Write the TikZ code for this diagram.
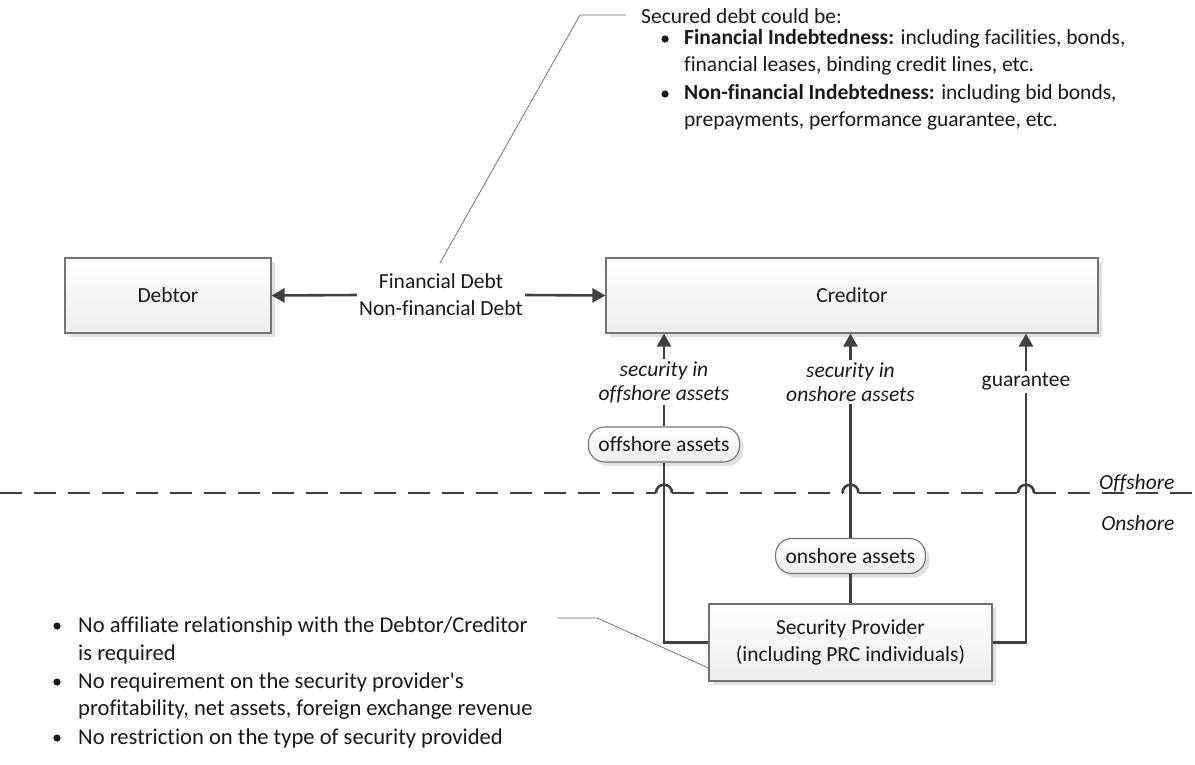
\documentclass[tikz,border=0pt]{standalone}
\usepackage{fontspec}
\setmainfont{Carlito}[Ligatures={TeXOff,CommonOff}]
\usetikzlibrary{arrows.meta,shadows}
\begin{document}
\begin{tikzpicture}[x=1pt,y=-1pt,
  every node/.style={font=\fontsize{21.5}{27}\selectfont, text=black!90},
  box/.style={draw=black!55, line width=1.1pt, top color=white, bottom color=black!7,
    drop shadow={shadow xshift=4pt, shadow yshift=-4pt, fill=black!12, opacity=1}},
  pill/.style={box, rounded corners=16pt, minimum height=35pt, inner xsep=10pt},
  conn/.style={draw=black!75, line width=2.6pt},
  arr/.style={conn, -{Triangle[length=13pt,width=14pt]}},
  callout/.style={draw=black!60, line width=0.7pt},
  dashline/.style={draw=black!75, line width=2.6pt, dash pattern=on 22pt off 12pt},
  hop/.style={draw=black!75, line width=2.6pt},
  lbl/.style={align=center, inner sep=2pt},
  dot/.style={fill=black!90},
  txt/.style={anchor=west, inner sep=0pt},
  bigtext/.style={anchor=west, inner sep=0pt, font=\fontsize{22.6}{28}\selectfont}
]
\useasboundingbox (0,0) rectangle (1195,764);

% boxes
\node[box, minimum width=206pt, minimum height=75pt] (debtor) at (168,295.5) {Debtor};
\node[box, minimum width=492pt, minimum height=75pt] (creditor) at (852,295.5) {Creditor};
\node[box, minimum width=283pt, minimum height=77pt, align=center] (sp) at (850.5,642.5)
  {Security Provider\\(including PRC individuals)};
\node[pill] (offp) at (664,444.5) {offshore assets};
\node[pill] (onp) at (850.5,556) {onshore assets};

% debt label and arrows
\node[lbl] (debt) at (441,295) {Financial Debt\\Non-financial Debt};
\draw[arr] (debt.west) -- (debtor.east);
\draw[arr] (debt.east) -- (creditor.west);

% vertical labels
\node[lbl, font=\itshape\fontsize{21.5}{24}\selectfont] (l1) at (664,382) {security in\\offshore assets};
\node[lbl, font=\itshape\fontsize{21.5}{24}\selectfont] (l2) at (850.5,382) {security in\\onshore assets};
\node[lbl] (l3) at (1026,382) {guarantee};

\draw[arr] (l1.north) -- (l1.north |- creditor.south);
\draw[arr] (l2.north) -- (l2.north |- creditor.south);
\draw[arr] (l3.north) -- (l3.north |- creditor.south);

\draw[conn] (l1.south) -- (offp.north);
\draw[conn] (offp.south) |- (sp.west);
\draw[conn] (l2.south) -- (onp.north);
\draw[conn] (onp.south) -- (sp.north);
\draw[conn] (l3.south) |- (sp.east);

% offshore / onshore divider with hops
\coordinate (dl) at (0,493);
\coordinate (h1a) at (656,493);   \coordinate (h1b) at (672,493);
\coordinate (h2a) at (842.5,493); \coordinate (h2b) at (858.5,493);
\coordinate (h3a) at (1018,493);  \coordinate (h3b) at (1034,493);
\coordinate (dr) at (1195,493);
\draw[dashline] (dl) -- (h1a);
\draw[dashline] (h1b) -- (h2a);
\draw[dashline] (h2b) -- (h3a);
\draw[dashline] (h3b) -- (dr);
\draw[hop] (h1a) .. controls (656,482) and (672,482) .. (h1b);
\draw[hop] (h2a) .. controls (842.5,482) and (858.5,482) .. (h2b);
\draw[hop] (h3a) .. controls (1018,482) and (1034,482) .. (h3b);
\node[anchor=east, font=\itshape\fontsize{21.5}{27}\selectfont] (offlbl) at (1178,483) {Offshore};
\node[anchor=east, font=\itshape\fontsize{21.5}{27}\selectfont] (onlbl) at (1178,523) {Onshore};

% top callout
\node[txt] (sec) at (641,16) {Secured debt could be:};
\fill[dot] (665,39) circle (3.6pt);
\fill[dot] (665,94) circle (3.6pt);
\node[txt] (t1) at (684,39) {\textbf{Financial Indebtedness:} including facilities, bonds,};
\node[txt] (t2) at (684,66) {financial leases, binding credit lines, etc.};
\node[txt] (t3) at (684,94) {\textbf{Non-financial Indebtedness:} including bid bonds,};
\node[txt] (t4) at (684,121) {prepayments, performance guarantee, etc.};
\coordinate (c1) at (580,15);
\coordinate (c0) at (440,263);
\draw[callout] (c0) -- (c1) -- (626,15);

% bottom callout
\fill[dot] (57,626) circle (3.6pt);
\fill[dot] (57,682) circle (3.6pt);
\fill[dot] (57,738) circle (3.6pt);
\node[bigtext] (b1) at (78,626) {No affiliate relationship with the Debtor/Creditor};
\node[bigtext] (b2) at (78,654) {is required};
\node[bigtext] (b3) at (78,682) {No requirement on the security provider's};
\node[bigtext] (b4) at (78,710) {profitability, net assets, foreign exchange revenue};
\node[bigtext] (b5) at (78,738) {No restriction on the type of security provided};
\coordinate (c2) at (557,618);
\coordinate (c3) at (597,618);
\draw[callout] (c2) -- (c3) -- (sp.west |- 0,668);
\end{tikzpicture}
\end{document}
